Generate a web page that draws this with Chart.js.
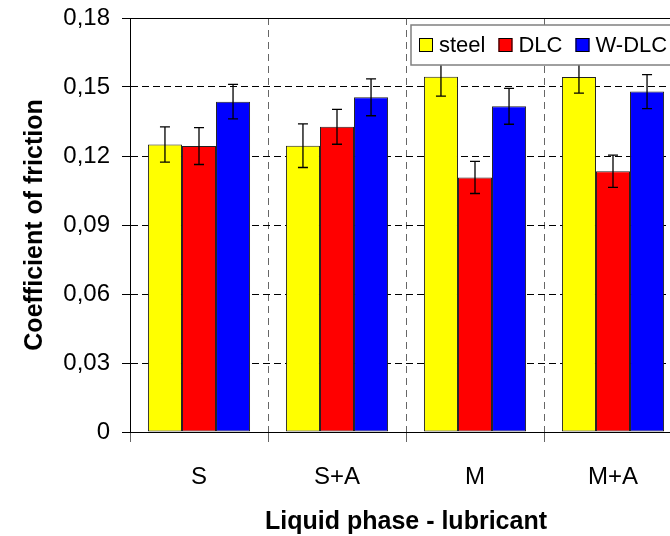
<!DOCTYPE html>
<html>
<head>
<meta charset="utf-8">
<script src="https://cdn.jsdelivr.net/npm/chart.js@4.4.1/dist/chart.umd.min.js"></script>
<style>
  html, body { margin: 0; padding: 0; background: #fff; overflow: hidden; }
  #wrap { width: 670px; height: 536px; overflow: hidden; }
  canvas { display: block; }
</style>
</head>
<body>
<div id="wrap"><canvas id="chart_friction" width="690" height="536"></canvas></div>
<script>
const categories = ['S', 'S+A', 'M', 'M+A'];

const steel = [0.125, 0.1245, 0.1545, 0.1543];
const steelErr = [0.0077, 0.0095, 0.0085, 0.0070];

const dlc = [0.1243, 0.1327, 0.1107, 0.1134];
const dlcErr = [0.0080, 0.0076, 0.0070, 0.0070];

const wdlc = [0.1436, 0.1455, 0.1416, 0.1480];
const wdlcErr = [0.0075, 0.0080, 0.0078, 0.0074];

const yTicks = [0, 0.03, 0.06, 0.09, 0.12, 0.15, 0.18];

const FONT = '"Liberation Sans", Arial, sans-serif';

// error bars, drawn on top of the bars
const errorBars = {
    id: 'errorBars',
    afterDatasetsDraw(chart) {
        const ctx = chart.ctx;
        const y = chart.scales.y;
        ctx.save();
        ctx.strokeStyle = '#000';
        ctx.lineWidth = 1.3;
        chart.data.datasets.forEach((ds, i) => {
            const meta = chart.getDatasetMeta(i);
            meta.data.forEach((bar, j) => {
                const top = y.getPixelForValue(ds.data[j] + ds.errors[j]);
                const bot = y.getPixelForValue(ds.data[j] - ds.errors[j]);
                ctx.beginPath();
                ctx.moveTo(bar.x, top); ctx.lineTo(bar.x, bot);
                ctx.moveTo(bar.x - 5, top); ctx.lineTo(bar.x + 5, top);
                ctx.moveTo(bar.x - 5, bot); ctx.lineTo(bar.x + 5, bot);
                ctx.stroke();
            });
        });
        ctx.restore();
    }
};

// legend box sitting inside the plot, top right
const boxLegend = {
    id: 'boxLegend',
    afterDraw(chart) {
        const ctx = chart.ctx;
        const area = chart.chartArea;
        const left = area.left + 281, top = area.top + 7;
        ctx.save();
        ctx.fillStyle = '#fff';
        ctx.strokeStyle = '#808080';
        ctx.lineWidth = 1.5;
        ctx.fillRect(left, top, 280, 40);
        ctx.strokeRect(left, top, 280, 40);
        ctx.font = '22px ' + FONT;
        ctx.textBaseline = 'middle';
        let x = left + 8;
        const cy = top + 20;
        chart.data.datasets.forEach(ds => {
            ctx.fillStyle = ds.backgroundColor;
            ctx.fillRect(x, cy - 7, 14, 14);
            ctx.strokeStyle = '#000';
            ctx.lineWidth = 1;
            ctx.strokeRect(x + 0.5, cy - 6.5, 13, 13);
            ctx.fillStyle = '#000';
            ctx.fillText(ds.label, x + 20, cy + 1);
            x += 20 + ctx.measureText(ds.label).width + 13;
        });
        ctx.restore();
    }
};

const data = {
    labels: categories,
    datasets: [
        { label: 'steel', data: steel, errors: steelErr, backgroundColor: '#FFFF00' },
        { label: 'DLC', data: dlc, errors: dlcErr, backgroundColor: '#FF0000' },
        { label: 'W-DLC', data: wdlc, errors: wdlcErr, backgroundColor: '#0000FF' },
    ]
};

const config = {
    type: 'bar',
    data: data,
    options: {
        responsive: false,
        animation: false,
        layout: { padding: { top: 18, right: 8, left: 0, bottom: 0 } },
        datasets: {
            bar: {
                borderColor: '#222',
                borderWidth: 1,
                borderSkipped: false,
                categoryPercentage: 0.74,
                barPercentage: 1.0
            }
        },
        plugins: {
            legend: { display: false },
            tooltip: { enabled: false }
        },
        scales: {
            x: {
                afterFit: s => { s.height = 104; s.paddingLeft = 0; s.paddingRight = 0; },
                grid: {
                    offset: true,
                    color: '#666',
                    lineWidth: 1,
                    tickLength: 10,
                    tickColor: '#666'
                },
                border: { color: '#000', width: 1, dash: [7, 5] },
                ticks: {
                    color: '#000',
                    font: { family: FONT, size: 24 },
                    padding: 21
                },
                title: {
                    display: true,
                    text: 'Liquid phase - lubricant',
                    color: '#000',
                    font: { family: FONT, size: 25, weight: 'bold', lineHeight: 1.1 },
                    padding: { top: 0, bottom: 0 }
                }
            },
            y: {
                min: 0,
                max: 0.18,
                afterFit: s => { s.width = 130; s.paddingTop = 0; s.paddingBottom = 0; },
                afterBuildTicks: s => { s.ticks = yTicks.map(v => ({ value: v })); },
                grid: {
                    color: '#000',
                    lineWidth: 1,
                    tickLength: 8,
                    tickColor: '#000'
                },
                border: {
                    color: '#000',
                    width: 1,
                    dash: c => (c.tick && c.tick.value > 0.179) ? [] : [7, 4]
                },
                ticks: {
                    color: '#000',
                    font: { family: FONT, size: 24 },
                    padding: 12,
                    callback: v => v === 0 ? '0' : v.toFixed(2).replace('.', ',')
                },
                title: {
                    display: true,
                    text: 'Coefficient of friction',
                    color: '#000',
                    font: { family: FONT, size: 25, weight: 'bold' },
                    padding: { top: 20, bottom: 0 }
                }
            }
        }
    },
    plugins: [errorBars, boxLegend]
};

const myChart = new Chart(
    document.getElementById('chart_friction'),
    config
);
</script>
</body>
</html>
